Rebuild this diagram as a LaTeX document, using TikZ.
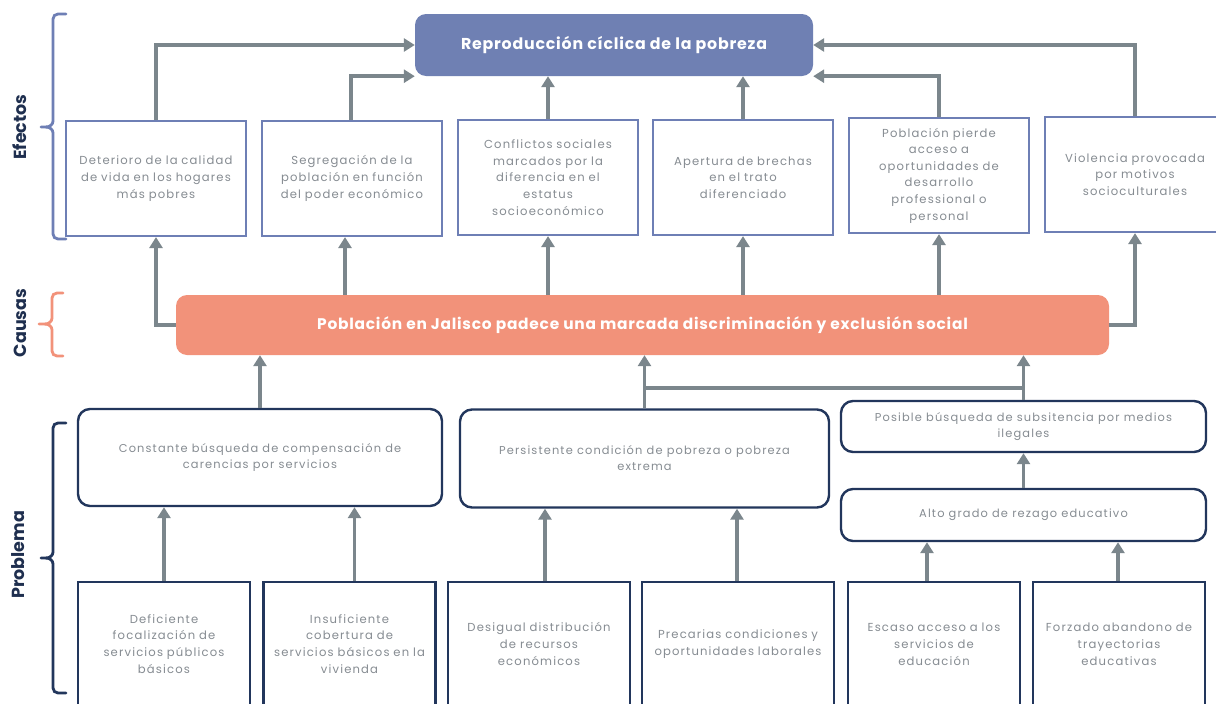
\documentclass[tikz,border=0pt]{standalone}
\usepackage{fontspec}
\setmainfont{Poppins}
\newfontfamily\boxf{Poppins}[LetterSpace=10]
\newfontfamily\headf{Poppins}[LetterSpace=5]
\usetikzlibrary{arrows.meta,calc}
\definecolor{topblue}{HTML}{6F80B3}
\definecolor{effblue}{HTML}{6E7FB5}
\definecolor{arrgray}{HTML}{7B868C}
\definecolor{salmon}{HTML}{F2927A}
\definecolor{navy}{HTML}{22365C}
\definecolor{txtgray}{HTML}{868C92}
\definecolor{labnavy}{HTML}{1F2F4F}
\begin{document}
\begin{tikzpicture}[x=1pt,y=-1pt,
  eff/.style={draw=effblue,line width=2.2pt,fill=white,minimum width=180pt,minimum height=115pt,text width=170pt,align=center,font=\boxf\fontsize{11.6}{16.6}\selectfont,text=txtgray,inner sep=0pt},
  midbox/.style={draw=navy,line width=2.4pt,fill=white,rounded corners=12pt,align=center,font=\boxf\fontsize{11.4}{16}\selectfont,text=txtgray,inner sep=0pt},
  botbox/.style={draw=navy,line width=2.4pt,fill=white,minimum width=172pt,minimum height=124pt,text width=166pt,align=center,font=\boxf\fontsize{11.6}{16.8}\selectfont,text=txtgray,inner sep=0pt},
  arr/.style={draw=arrgray,line width=3.6pt,-{Triangle[width=13pt,length=11pt]}},
  plainline/.style={draw=arrgray,line width=3.6pt},
  bracket/.style={line width=2.8pt,line cap=round},
  lab/.style={rotate=90,font=\bfseries\fontsize{17.5}{19}\selectfont,text=labnavy},
  headtxt/.style={text=white,font=\headf\bfseries\fontsize{15.8}{17}\selectfont}
]
\useasboundingbox (0,0) rectangle (1216,704);
\clip (0,0) rectangle (1216,704);
\fill[white] (0,0) rectangle (1216,704);

% side labels and brackets
\node[lab] (lef) at (20,127) {Efectos};
\node[lab] (lca) at (20,323) {Causas};
\node[lab] (lpr) at (18,555) {Problema};

\draw[bracket,effblue] (66,14) -- (58,14) to[out=180,in=90] (53,19) -- (53,121) to[out=-90,in=0] (46,127) -- (41,127);
\draw[bracket,effblue] (66,239) -- (58,239) to[out=180,in=-90] (53,234) -- (53,133) to[out=90,in=0] (46,127);
\draw[bracket,salmon] (63,293) -- (57,293) to[out=180,in=90] (52,298) -- (52,318) to[out=-90,in=0] (45,324) -- (39,324);
\draw[bracket,salmon] (63,356) -- (57,356) to[out=180,in=-90] (52,351) -- (52,330) to[out=90,in=0] (45,324);
\draw[bracket,navy] (66,423) -- (58,423) to[out=180,in=90] (53,428) -- (53,552) to[out=-90,in=0] (46,558) -- (41,558);
\draw[bracket,navy] (66,693) -- (58,693) to[out=180,in=-90] (53,688) -- (53,564) to[out=90,in=0] (46,558);

% top box
\node[fill=topblue,rounded corners=11pt,minimum width=398pt,minimum height=62pt,headtxt] (top) at (614,45) {Reproducción cíclica de la pobreza};

% effect boxes
\node[eff] (e1) at (156,178.5) {Deterioro de la calidad\\de vida en los hogares\\más pobres};
\node[eff] (e2) at (352,178.5) {Segregación de la\\población en función\\del poder económico};
\node[eff] (e3) at (548,177.5) {Conflictos sociales\\marcados por la\\diferencia en el\\estatus\\socioeconómico};
\node[eff] (e4) at (743,177.5) {Apertura de brechas\\en el trato\\diferenciado};
\node[eff] (e5) at (939,175.5) {Población pierde\\acceso a\\oportunidades de\\desarrollo\\professional o\\personal};
\node[eff] (e6) at (1135,174.5) {Violencia provocada\\por motivos\\socioculturales};

% effect arrows to top
\draw[arr] (e1.north) |- (top.west);
\draw[arr] ([xshift=-1]e2.north) |- (top.south west);
\draw[arr] (e3.north) -- (e3.north |- top.south);
\draw[arr] (e4.north) -- (e4.north |- top.south);
\draw[arr] (e5.north) |- (top.south east);
\draw[arr] (e6.north) |- (top.east);

% cause bar
\node[fill=salmon,rounded corners=11pt,minimum width=933pt,minimum height=60pt,headtxt,font=\headf\bfseries\fontsize{15.4}{17}\selectfont] (causa) at (642.5,325) {Población en Jalisco padece una marcada discriminación y exclusión social};

\draw[arr] (causa.west) -| (e1.south);
\draw[arr] ([xshift=-7]e2.south |- causa.north) -- ([xshift=-7]e2.south);
\draw[arr] (e3.south |- causa.north) -- (e3.south);
\draw[arr] (e4.south |- causa.north) -- (e4.south);
\draw[arr] (e5.south |- causa.north) -- (e5.south);
\draw[arr] (causa.east) -| (e6.south);

% middle boxes
\node[midbox,minimum width=364pt,minimum height=97pt] (c1) at (260,457.5) {Constante búsqueda de compensación de\\carencias por servicios};
\node[midbox,minimum width=369pt,minimum height=98pt] (c2) at (644.5,458.5) {Persistente condición de pobreza o pobreza\\extrema};
\node[midbox,minimum width=365pt,minimum height=51pt] (c3) at (1023.5,426.5) {Posible búsqueda de subsitencia por medios\\ilegales};
\node[midbox,minimum width=365pt,minimum height=52pt] (c4) at (1023.5,515) {Alto grado de rezago educativo};

\coordinate (j) at (0,388);
\draw[arr] (c1.north) -- (c1.north |- causa.south);
\draw[arr] (c2.north) -- (c2.north |- causa.south);
\draw[arr] (c3.north) -- (c3.north |- causa.south);
\draw[plainline] (c2.north |- j) -- (c3.north |- j);
\draw[arr] (c4.north) -- (c4.south |- c3.south);

% bottom boxes
\node[botbox] (b1) at (164,644) {Deficiente\\focalización de\\servicios públicos\\básicos};
\node[botbox] (b2) at (349.5,644) {Insuficiente\\cobertura de\\servicios básicos en la\\vivienda};
\node[botbox,minimum width=182pt] (b3) at (539,644) {Desigual distribución\\de recursos\\económicos};
\node[botbox,minimum width=192pt,text width=186pt] (b4) at (738,644) {Precarias condiciones y\\oportunidades laborales};
\node[botbox] (b5) at (934,644) {Escaso acceso a los\\servicios de\\educación};
\node[botbox] (b6) at (1119,644) {Forzado abandono de\\trayectorias\\educativas};

\draw[arr] (b1.north) -- (b1.north |- c1.south);
\draw[arr] ([xshift=5]b2.north) -- ([xshift=5]b2.north |- c1.south);
\draw[arr] ([xshift=6]b3.north) -- ([xshift=6]b3.north |- c2.south);
\draw[arr] ([xshift=-1]b4.north) -- ([xshift=-1]b4.north |- c2.south);
\draw[arr] ([xshift=-7]b5.north) -- ([xshift=-7]b5.north |- c4.south);
\draw[arr] ([xshift=-1]b6.north) -- ([xshift=-1]b6.north |- c4.south);
\end{tikzpicture}
\end{document}
